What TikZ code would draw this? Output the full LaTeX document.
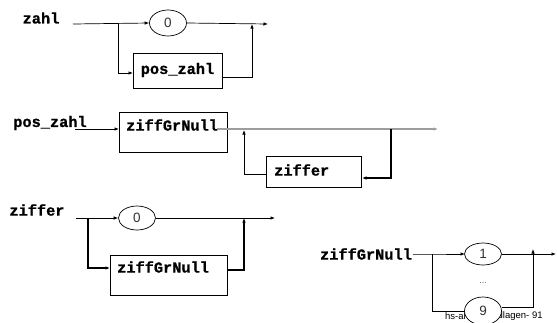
\documentclass[tikz,border=0pt]{standalone}
\usepackage{fontspec}
\setmonofont{Liberation Mono}[BoldFeatures={FakeBold=0.8}]
\setsansfont{Liberation Sans}
\usetikzlibrary{arrows.meta,shapes.geometric}
\begin{document}
\begin{tikzpicture}[x=1pt,y=-1pt,
  lbl/.style={font=\ttfamily\bfseries\fontsize{15.3}{16}\selectfont, inner sep=0pt},
  digit/.style={ellipse, draw, fill=white, line width=0.7pt, inner sep=0pt,
    minimum width=37pt, font=\sffamily\fontsize{13.5}{14}\selectfont\color{black!80}},
  boxr/.style={draw, line width=0.8pt, inner sep=0pt},
  foottxt/.style={font=\sffamily\fontsize{9.5}{10}\selectfont, anchor=west, inner sep=0pt},
  thin/.style={line width=0.7pt},
  thick/.style={line width=1.4pt},
  arr/.style={-{Latex[length=4.5pt,width=3.5pt]}},
  gline/.style={line width=1.3pt, draw=black!38}
]
\useasboundingbox (0,0) rectangle (557,322);

% ---------- zahl ----------
\node[lbl] (lzahl) at (41,18) {zahl};
\coordinate (s1) at (73,24);
\coordinate (b1) at (118,24);
\node[digit, minimum height=26pt] (c1) at (168,23) {0};
\coordinate (e1) at (268,24);
\node[boxr, minimum width=89pt, minimum height=35pt] (pz) at (177.5,70.5) {};
\node[lbl] (pzt) at (177.5,70) {pos\_zahl};
\coordinate (b1d) at (118,73);
\coordinate (pzin) at (133,73);
\coordinate (pzout) at (222,77);
\coordinate (j1d) at (252,77);
\coordinate (j1) at (252,24);
\draw[thin,arr] (s1) -- (c1.west);
\draw[thin,arr] (c1.east) -- (e1);
\draw[thin,arr] (b1) -- (b1d) -- (pzin);
\draw[thin,arr] (pzout) -- (j1d) -- (j1);

% ---------- pos_zahl ----------
\node[lbl] (lpz) at (50,123) {pos\_zahl};
\node[boxr, minimum width=108pt, minimum height=40pt] (zg) at (173,132) {};
\node[lbl, anchor=west] (zgt) at (126,125) {ziffGrNull};
\coordinate (s2) at (75,129);
\coordinate (zgin) at (119,129);
\coordinate (zgout) at (217,129);
\coordinate (e2) at (438,129);
\coordinate (l2) at (391,129);
\coordinate (l2d) at (391,178);
\node[boxr, minimum width=95pt, minimum height=31pt] (zf) at (313.5,171.5) {};
\node[lbl, anchor=west] (zft) at (274,170) {ziffer};
\coordinate (zfin) at (362,178);
\coordinate (zfout) at (266,174);
\coordinate (r2d) at (244,174);
\coordinate (r2) at (244,130);
\draw[thin,arr] (s2) -- (zgin);
\draw[gline,arr] (zgout) -- (e2);
\draw[thick,arr] (l2) -- (l2d) -- (zfin);
\draw[thin,arr] (zfout) -- (r2d) -- (r2);

% ---------- ziffer ----------
\node[lbl] (lzf) at (37,210) {ziffer};
\coordinate (s3) at (76,218);
\coordinate (b3) at (88,218);
\node[digit, minimum height=24pt] (c3) at (137,218) {0};
\coordinate (e3) at (275,218);
\node[boxr, minimum width=117pt, minimum height=40pt] (zg2) at (168.5,275) {};
\node[lbl, anchor=west] (zg2t) at (117,267) {ziffGrNull};
\coordinate (b3d) at (88,268);
\coordinate (zg2in) at (110,268);
\coordinate (zg2out) at (227,270);
\coordinate (j3d) at (244,270);
\coordinate (j3) at (244,218);
\draw[thin,arr] (s3) -- (c3.west);
\draw[thin,arr] (c3.east) -- (e3);
\draw[thick,arr] (b3) -- (b3d) -- (zg2in);
\draw[thick,arr] (zg2out) -- (j3d) -- (j3);

% ---------- ziffGrNull ----------
\node[foottxt] (foot1) at (445,316.5) {hs-al};
\node[foottxt] (foot2) at (497.5,316.5) {dlagen- 91};
\node[lbl] (lzg) at (366,254) {ziffGrNull};
\coordinate (s4) at (413,254);
\coordinate (b4) at (432,254);
\coordinate (b4d) at (432,311.5);
\coordinate (e4) at (556,254);
\coordinate (j4d) at (533,307);
\coordinate (j4) at (533,254);
\node[font=\sffamily\fontsize{9}{10}\selectfont\color{black!60}, inner sep=0pt] (dots) at (483,283) {...};
\draw[thin,arr] (s4) -- (b4) -- (465,254);
\draw[thin] (b4) -- (b4d) -- (466,311.5);
\node[digit, minimum height=22pt] (c4) at (483,254) {1};
\node[digit, minimum height=28pt] (c9) at (483,311) {9};
\draw[thin,arr] (c4.east) -- (e4);
\draw[thin,arr] (c9.east |- j4d) -- (j4d) -- ([yshift=5pt]j4);
\end{tikzpicture}
\end{document}
